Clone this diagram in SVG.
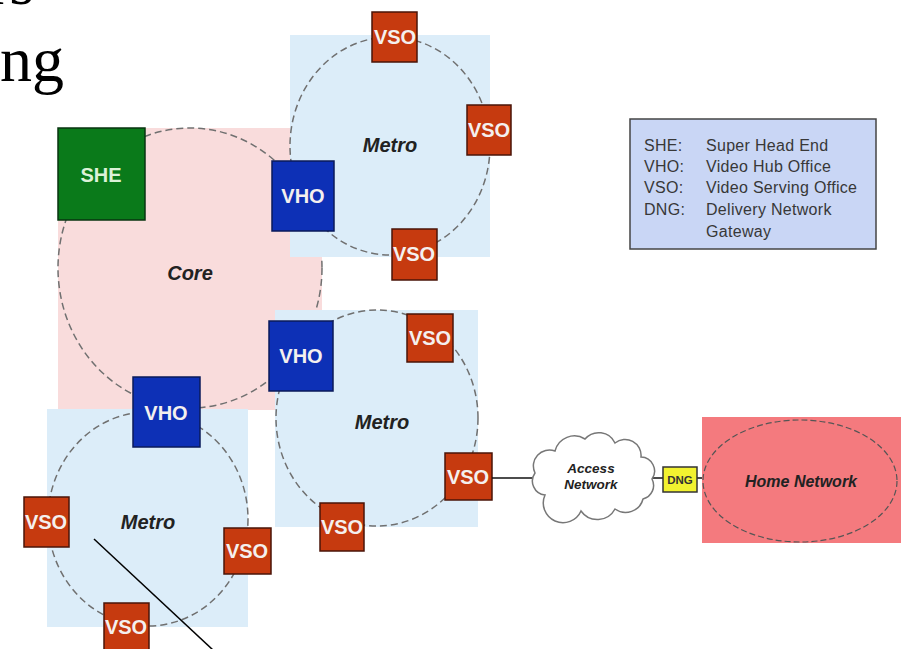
<svg xmlns="http://www.w3.org/2000/svg" width="901" height="649" viewBox="0 0 901 649">
<style>
.bg{fill:#ffffff}
.core{fill:#f9dcdc}
.metro{fill:#dcedf9}
.ring{fill:none;stroke:#707070;stroke-width:1.5;stroke-dasharray:7 4}
.vso rect{fill:#c63a0f;stroke:#4a1508;stroke-width:1.5}
.vho rect{fill:#0d30b6;stroke:#0a1a5a;stroke-width:1.5}
.she rect{fill:#0a7a1a;stroke:#083510;stroke-width:1.5}
.nt{font-family:"Liberation Sans",Arial,sans-serif;font-weight:bold;font-size:20px;fill:#f4f0ee;text-anchor:middle}
.lbl{font-family:"Liberation Sans",Arial,sans-serif;font-weight:bold;font-style:italic;font-size:20px;fill:#222;text-anchor:middle}
.leg{font-family:"Liberation Sans",Arial,sans-serif;font-size:16px;letter-spacing:0.3px;fill:#383838}
.big{font-family:"Liberation Serif","Times New Roman",serif;font-size:64px;fill:#000}
.conn line{stroke:#111;stroke-width:1.5}
</style>
<rect class="bg" x="0" y="0" width="901" height="649"/>
<text class="big" x="-12" y="4">rs</text>
<text class="big" x="0" y="81">ng</text>

<g id="core">
<rect class="core" x="58" y="128" width="264" height="282"/>
<ellipse class="ring" cx="190" cy="268" rx="132" ry="140"/>
<text class="lbl" x="190" y="280">Core</text>
</g>

<g id="metro-top">
<rect class="metro" x="290" y="35" width="200" height="222"/>
<ellipse class="ring" cx="390" cy="146" rx="100" ry="109"/>
<text class="lbl" x="390" y="152">Metro</text>
</g>

<g id="metro-mid">
<rect class="metro" x="275" y="310" width="203" height="217"/>
<ellipse class="ring" cx="377" cy="418" rx="101" ry="108"/>
<text class="lbl" x="382" y="429">Metro</text>
</g>

<g id="metro-left">
<rect class="metro" x="47" y="409" width="201" height="218"/>
<ellipse class="ring" cx="148" cy="519" rx="100" ry="107"/>
<text class="lbl" x="148" y="529">Metro</text>
</g>

<g id="she" class="she"><rect x="58" y="128" width="87" height="92"/><text class="nt" x="101" y="182" style="fill:#dcf2d8">SHE</text></g>

<g id="vho-top" class="vho"><rect x="272" y="161" width="62" height="70"/><text class="nt" x="303" y="203">VHO</text></g>
<g id="vho-mid" class="vho"><rect x="269" y="321" width="64" height="70"/><text class="nt" x="301" y="363">VHO</text></g>
<g id="vho-left" class="vho"><rect x="133" y="377" width="67" height="70"/><text class="nt" x="166" y="420">VHO</text></g>

<g id="vso-top1" class="vso"><rect x="372" y="12" width="45" height="50"/><text class="nt" x="395" y="44">VSO</text></g>
<g id="vso-top2" class="vso"><rect x="467" y="105" width="44" height="50"/><text class="nt" x="489" y="137">VSO</text></g>
<g id="vso-top3" class="vso"><rect x="392" y="229" width="45" height="51"/><text class="nt" x="414" y="261">VSO</text></g>

<g id="vso-mid1" class="vso"><rect x="407" y="314" width="46" height="48"/><text class="nt" x="430" y="345">VSO</text></g>
<g id="vso-mid2" class="vso"><rect x="445" y="453" width="47" height="47"/><text class="nt" x="468" y="484">VSO</text></g>
<g id="vso-mid3" class="vso"><rect x="320" y="503" width="44" height="48"/><text class="nt" x="342" y="534">VSO</text></g>

<g id="vso-left1" class="vso"><rect x="24" y="497" width="45" height="50"/><text class="nt" x="46" y="529">VSO</text></g>
<g id="vso-left2" class="vso"><rect x="224" y="528" width="47" height="46"/><text class="nt" x="247" y="558">VSO</text></g>
<g id="vso-left3" class="vso"><rect x="104" y="603" width="45" height="48"/><text class="nt" x="126" y="634">VSO</text></g>

<g id="connectors" class="conn">
<line x1="492" y1="478" x2="534" y2="478"/>
<line x1="652" y1="478" x2="663" y2="478"/>
<line x1="697" y1="478" x2="703" y2="478"/>
</g>

<g id="access-network">
<path d="M545 495 a14 14 0 0 1 -10 -22 a16 16 0 0 1 20 -22 a20 20 0 0 1 30 -12 a18 18 0 0 1 30 4 a16 16 0 0 1 26 14 a14 14 0 0 1 11 22 a14 14 0 0 1 -9 20 a18 18 0 0 1 -28 10 a20 20 0 0 1 -34 2 a18 18 0 0 1 -36 -16 Z" fill="#ffffff" stroke="#777" stroke-width="1.5"/>
<text class="lbl" x="591" y="473" style="font-size:13.5px">Access</text>
<text class="lbl" x="591" y="489" style="font-size:13.5px">Network</text>
</g>

<g id="dng">
<rect x="663" y="467" width="34" height="25" fill="#f2f230" stroke="#333" stroke-width="1.5"/>
<text x="680" y="484" text-anchor="middle" font-family="Liberation Sans, Arial, sans-serif" font-weight="bold" font-size="11.5" fill="#333">DNG</text>
</g>

<g id="home-network">
<rect x="702" y="417" width="199" height="126" fill="#f47a7e"/>
<ellipse cx="800" cy="481" rx="97" ry="61" fill="none" stroke="#555" stroke-width="1.2" stroke-dasharray="6 3"/>
<text class="lbl" x="801" y="487" style="font-size:16px">Home Network</text>
</g>

<g id="legend">
<rect x="630" y="119" width="246" height="130" fill="#c9d6f5" stroke="#444" stroke-width="1.5"/>
<text class="leg" x="644" y="151">SHE:</text><text class="leg" x="706" y="151">Super Head End</text>
<text class="leg" x="644" y="172">VHO:</text><text class="leg" x="706" y="172">Video Hub Office</text>
<text class="leg" x="644" y="193">VSO:</text><text class="leg" x="706" y="193">Video Serving Office</text>
<text class="leg" x="644" y="215">DNG:</text><text class="leg" x="706" y="215">Delivery Network</text>
<text class="leg" x="706" y="237">Gateway</text>
</g>

<line x1="94" y1="539" x2="213" y2="650" stroke="#000" stroke-width="1.5"/>
</svg>
